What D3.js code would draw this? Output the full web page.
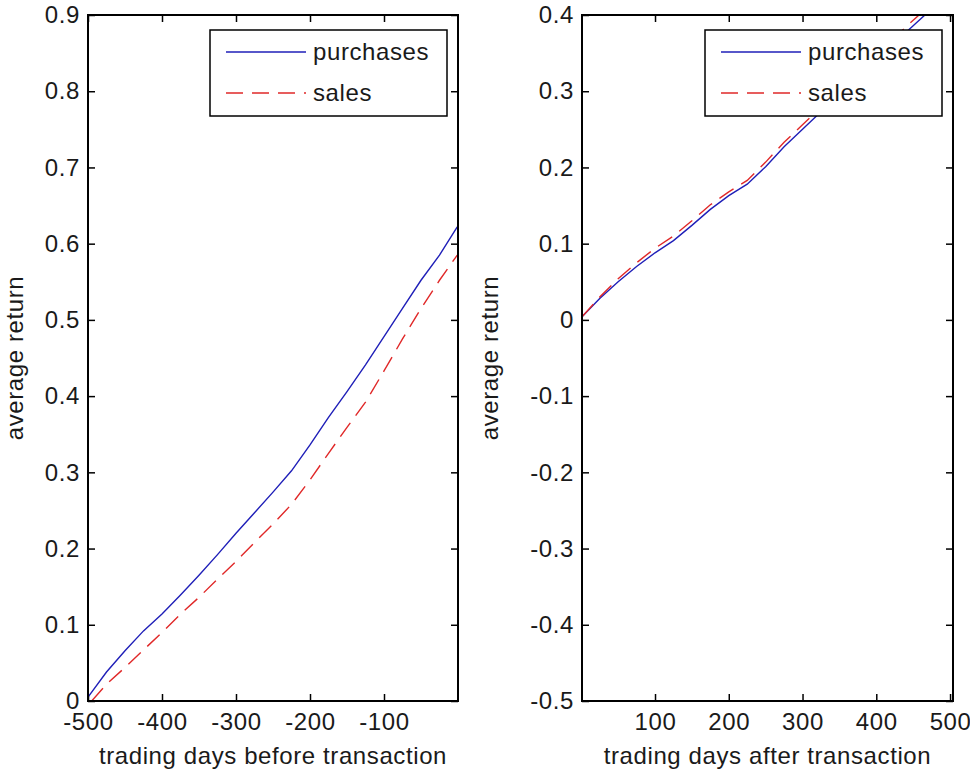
<!DOCTYPE html>
<html>
<head>
<meta charset="utf-8">
<script src="https://cdn.jsdelivr.net/npm/d3@7/dist/d3.min.js"></script>
<style>
  body { margin: 0; background: #fff; }
  svg text { font-family: "Liberation Sans", Arial, sans-serif; font-size: 24px; letter-spacing: 0.6px; fill: #1a1a1a; }
</style>
</head>
<body>
<svg id="chart" width="970" height="771"></svg>
<script>
// days before the transaction (left panel)
var daysBefore = [-500, -475, -450, -425, -400, -375, -350, -325, -300, -275, -250,
                  -225, -200, -175, -150, -125, -100, -75, -50, -25, -1];
var purchasesBefore = [0.005, 0.038, 0.066, 0.092, 0.114, 0.139, 0.165, 0.192, 0.220, 0.247, 0.274,
                       0.302, 0.336, 0.372, 0.406, 0.441, 0.478, 0.515, 0.552, 0.585, 0.622];
var salesDays = [-495, -475, -450, -425, -400, -375, -350, -325, -300, -275, -250,
                 -225, -200, -175, -150, -125, -100, -75, -50, -25, -1];
var salesBefore = [0.000, 0.022, 0.044, 0.067, 0.090, 0.114, 0.136, 0.160, 0.183, 0.208, 0.232,
                   0.258, 0.290, 0.325, 0.359, 0.392, 0.433, 0.475, 0.515, 0.552, 0.585];

// days after the transaction (right panel)
var daysAfter = [1, 25, 50, 75, 100, 125, 150, 175, 200, 225, 250,
                 275, 300, 325, 350, 375, 400, 425, 450, 475];
var purchasesAfter = [0.004, 0.028, 0.050, 0.070, 0.088, 0.104, 0.124, 0.145, 0.163, 0.178, 0.201,
                      0.227, 0.250, 0.273, 0.296, 0.318, 0.341, 0.364, 0.386, 0.408];
var salesAfter = [0.004, 0.030, 0.054, 0.075, 0.094, 0.110, 0.130, 0.151, 0.168, 0.183, 0.207,
                  0.233, 0.256, 0.279, 0.302, 0.325, 0.348, 0.371, 0.393, 0.415];

var ticksBefore = [-500, -400, -300, -200, -100];
var ticksAfter = [100, 200, 300, 400, 500];
var yTicksBefore = [0, 0.1, 0.2, 0.3, 0.4, 0.5, 0.6, 0.7, 0.8, 0.9];
var yTicksAfter = [-0.5, -0.4, -0.3, -0.2, -0.1, 0, 0.1, 0.2, 0.3, 0.4];
var seriesNames = ['purchases', 'sales'];

var svg = d3.select('#chart');
var plotTop = 15, plotBottom = 701, tick = 7;
// plain hyphen for negatives, like the original figure
var locale = d3.formatLocale({ decimal: '.', thousands: '', grouping: [3], currency: ['', ''], minus: '-' });
var fmtX = locale.format('d'), fmtY = locale.format('.1~f');

function panel(id, left, right, xDomain, yDomain, xTicks, yTicks, xTitle, yTitleX, series) {
  var x = d3.scaleLinear().domain(xDomain).range([left, right]);
  var y = d3.scaleLinear().domain(yDomain).range([plotBottom, plotTop]);
  var g = svg.append('g');

  g.append('clipPath').attr('id', 'clip-' + id)
    .append('rect').attr('x', left).attr('y', plotTop)
    .attr('width', right - left).attr('height', plotBottom - plotTop);

  // ticks (inward on all four sides), labels only bottom and left
  var axes = [
    [d3.axisBottom(x).tickValues(xTicks).tickFormat(fmtX), 'translate(0,' + plotBottom + ')', 12],
    [d3.axisTop(x).tickValues(xTicks).tickFormat(''), 'translate(0,' + plotTop + ')', 0],
    [d3.axisLeft(y).tickValues(yTicks).tickFormat(fmtY), 'translate(' + left + ',0)', 8],
    [d3.axisRight(y).tickValues(yTicks).tickFormat(''), 'translate(' + right + ',0)', 0]
  ];
  axes.forEach(function (a) {
    var ax = g.append('g').attr('transform', a[1])
      .call(a[0].tickSizeInner(-tick).tickSizeOuter(0).tickPadding(a[2]));
    ax.select('.domain').remove();
    ax.selectAll('line').attr('stroke', '#000').attr('stroke-width', 1.5);
    ax.attr('font-family', null).attr('font-size', null);
    ax.selectAll('text').attr('fill', null);
    if (!a[2]) ax.selectAll('text').remove();
  });

  var line = d3.line().x(function (d) { return x(d[0]); }).y(function (d) { return y(d[1]); });
  var plot = g.append('g').attr('clip-path', 'url(#clip-' + id + ')');
  series.forEach(function (s) {
    plot.append('path')
      .datum(d3.zip(s.days, s.values))
      .attr('d', line)
      .attr('fill', 'none')
      .attr('stroke', s.color)
      .attr('stroke-width', 1.4)
      .attr('stroke-dasharray', s.dash);
  });

  g.append('rect').attr('x', left).attr('y', plotTop)
    .attr('width', right - left).attr('height', plotBottom - plotTop)
    .attr('fill', 'none').attr('stroke', '#000').attr('stroke-width', 2);

  // legend
  var lx = right - 248, ly = 30, lw = 237, lh = 86;
  var leg = g.append('g');
  leg.append('rect').attr('x', lx).attr('y', ly).attr('width', lw).attr('height', lh)
    .attr('fill', '#fff').attr('stroke', '#000').attr('stroke-width', 1.5);
  series.forEach(function (s, i) {
    var yy = ly + 22 + i * 41;
    leg.append('line').attr('x1', lx + 16).attr('x2', lx + 96).attr('y1', yy).attr('y2', yy)
      .attr('stroke', s.color).attr('stroke-width', 1.4).attr('stroke-dasharray', s.dash);
    leg.append('text').attr('x', lx + 103).attr('y', yy).attr('dy', '0.35em').text(seriesNames[i]);
  });

  g.append('text').attr('x', (left + right) / 2).attr('y', 764)
    .attr('text-anchor', 'middle').text(xTitle);
  g.append('text').attr('transform', 'translate(' + yTitleX + ',' + ((plotTop + plotBottom) / 2) + ') rotate(-90)')
    .attr('text-anchor', 'middle').attr('dy', '0.35em').text('average return');
}

var blue = '#1f1fb8', red = '#e02828';

panel('l', 88, 458, [-500, 0], [0, 0.9], ticksBefore, yTicksBefore,
  'trading days before transaction', 15, [
    { days: daysBefore, values: purchasesBefore, color: blue, dash: null },
    { days: salesDays, values: salesBefore, color: red, dash: '17,9' }
  ]);

panel('r', 582, 953, [1, 504], [-0.5, 0.4], ticksAfter, yTicksAfter,
  'trading days after transaction', 490, [
    { days: daysAfter, values: purchasesAfter, color: blue, dash: null },
    { days: daysAfter, values: salesAfter, color: red, dash: '17,9' }
  ]);
</script>
</body>
</html>
